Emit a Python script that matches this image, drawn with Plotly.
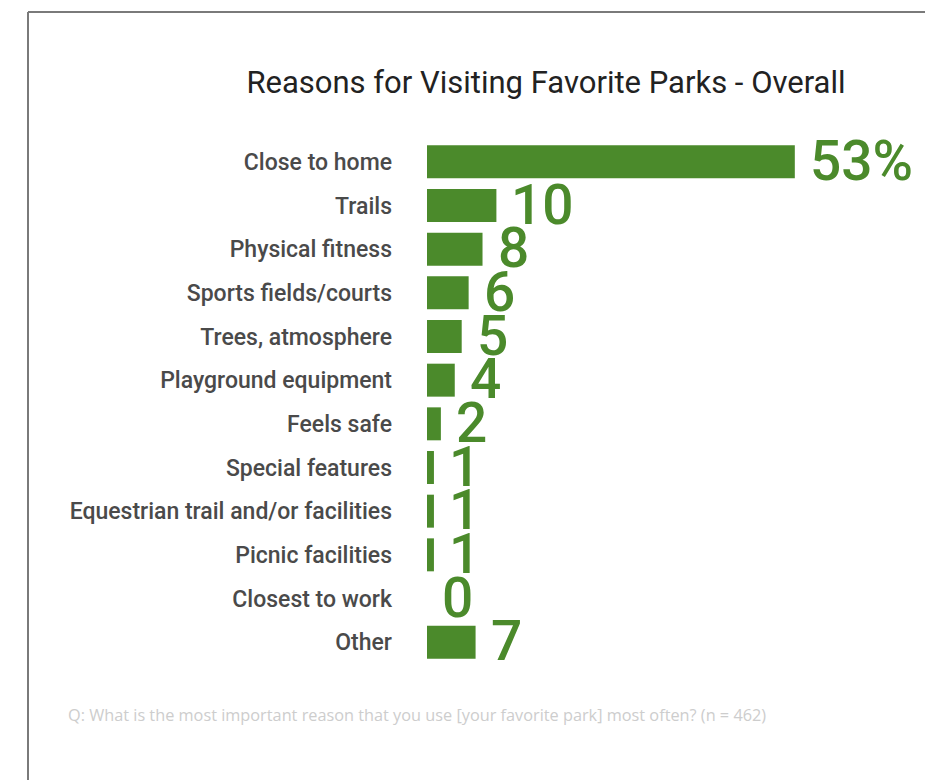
import plotly.graph_objects as go

# Survey results: most important reason for visiting a favorite park
reasons = [
    "Close to home",
    "Trails",
    "Physical fitness",
    "Sports fields/courts",
    "Trees, atmosphere",
    "Playground equipment",
    "Feels safe",
    "Special features",
    "Equestrian trail and/or facilities",
    "Picnic facilities",
    "Closest to work",
    "Other",
]
percents = [53, 10, 8, 6, 5, 4, 2, 1, 1, 1, 0, 7]

title_text = "Reasons for Visiting Favorite Parks - Overall"
footnote_text = ("Q: What is the most important reason that you use "
                 "[your favorite park] most often? (n = 462)")

GREEN = "#4b8a2b"
LABEL_GRAY = "#4a4a4a"

value_labels = [f"{v}%" if i == 0 else str(v) for i, v in enumerate(percents)]

# Plot-area geometry in pixels (left, top, width, height)
L, T, W, H = 427, 140, 480, 524
def px_x(p):
    return (p - L) / W
def px_y(p):
    return (T + H - p) / H

fig = go.Figure()
fig.add_trace(go.Bar(
    x=percents,
    y=reasons,
    orientation="h",
    marker=dict(color=GREEN, line=dict(width=0)),
    hoverinfo="skip",
))

# Large value labels to the right of each bar
for v, r, t in zip(percents, reasons, value_labels):
    fig.add_annotation(
        x=v, y=r, xref="x", yref="y",
        text=t, showarrow=False,
        xanchor="left", yanchor="middle",
        xshift=13, yshift=1,
        font=dict(family="Roboto", size=55, color=GREEN, weight=500),
    )

# Footnote with the survey question
fig.add_annotation(
    x=px_x(66), y=px_y(715), xref="paper", yref="paper",
    text=footnote_text, showarrow=False,
    xanchor="left", yanchor="middle",
    font=dict(family="Open Sans", size=16.3, color="#cdcdcd"),
)

# Frame lines along the top and left edges
frame = dict(color="#7a7a7a", width=2)
fig.add_shape(type="line", xref="paper", yref="paper",
              x0=px_x(28), x1=px_x(940), y0=px_y(12), y1=px_y(12), line=frame)
fig.add_shape(type="line", xref="paper", yref="paper",
              x0=px_x(28), x1=px_x(28), y0=px_y(12), y1=px_y(800), line=frame)

fig.update_layout(
    width=925, height=780,
    margin=dict(l=L, r=925 - L - W, t=T, b=780 - T - H, autoexpand=False),
    paper_bgcolor="white",
    plot_bgcolor="white",
    showlegend=False,
    bargap=0.245,
    title=dict(
        text=title_text,
        x=546 / 925, xref="container", xanchor="center",
        y=1 - 82 / 780, yref="container", yanchor="middle",
        font=dict(family="Roboto", size=31, color="#222222"),
    ),
    xaxis=dict(
        range=[0, W / 6.94],
        autorange=False,
        visible=False,
        fixedrange=True,
    ),
    yaxis=dict(
        categoryorder="array",
        categoryarray=reasons,
        range=[len(reasons) - 0.5, -0.5],
        autorange=False,
        showgrid=False,
        zeroline=False,
        showline=False,
        ticks="",
        ticklabelstandoff=34,
        tickfont=dict(family="Roboto", size=23, color=LABEL_GRAY, weight=500),
        fixedrange=True,
    ),
)

fig.write_html("out.html")
